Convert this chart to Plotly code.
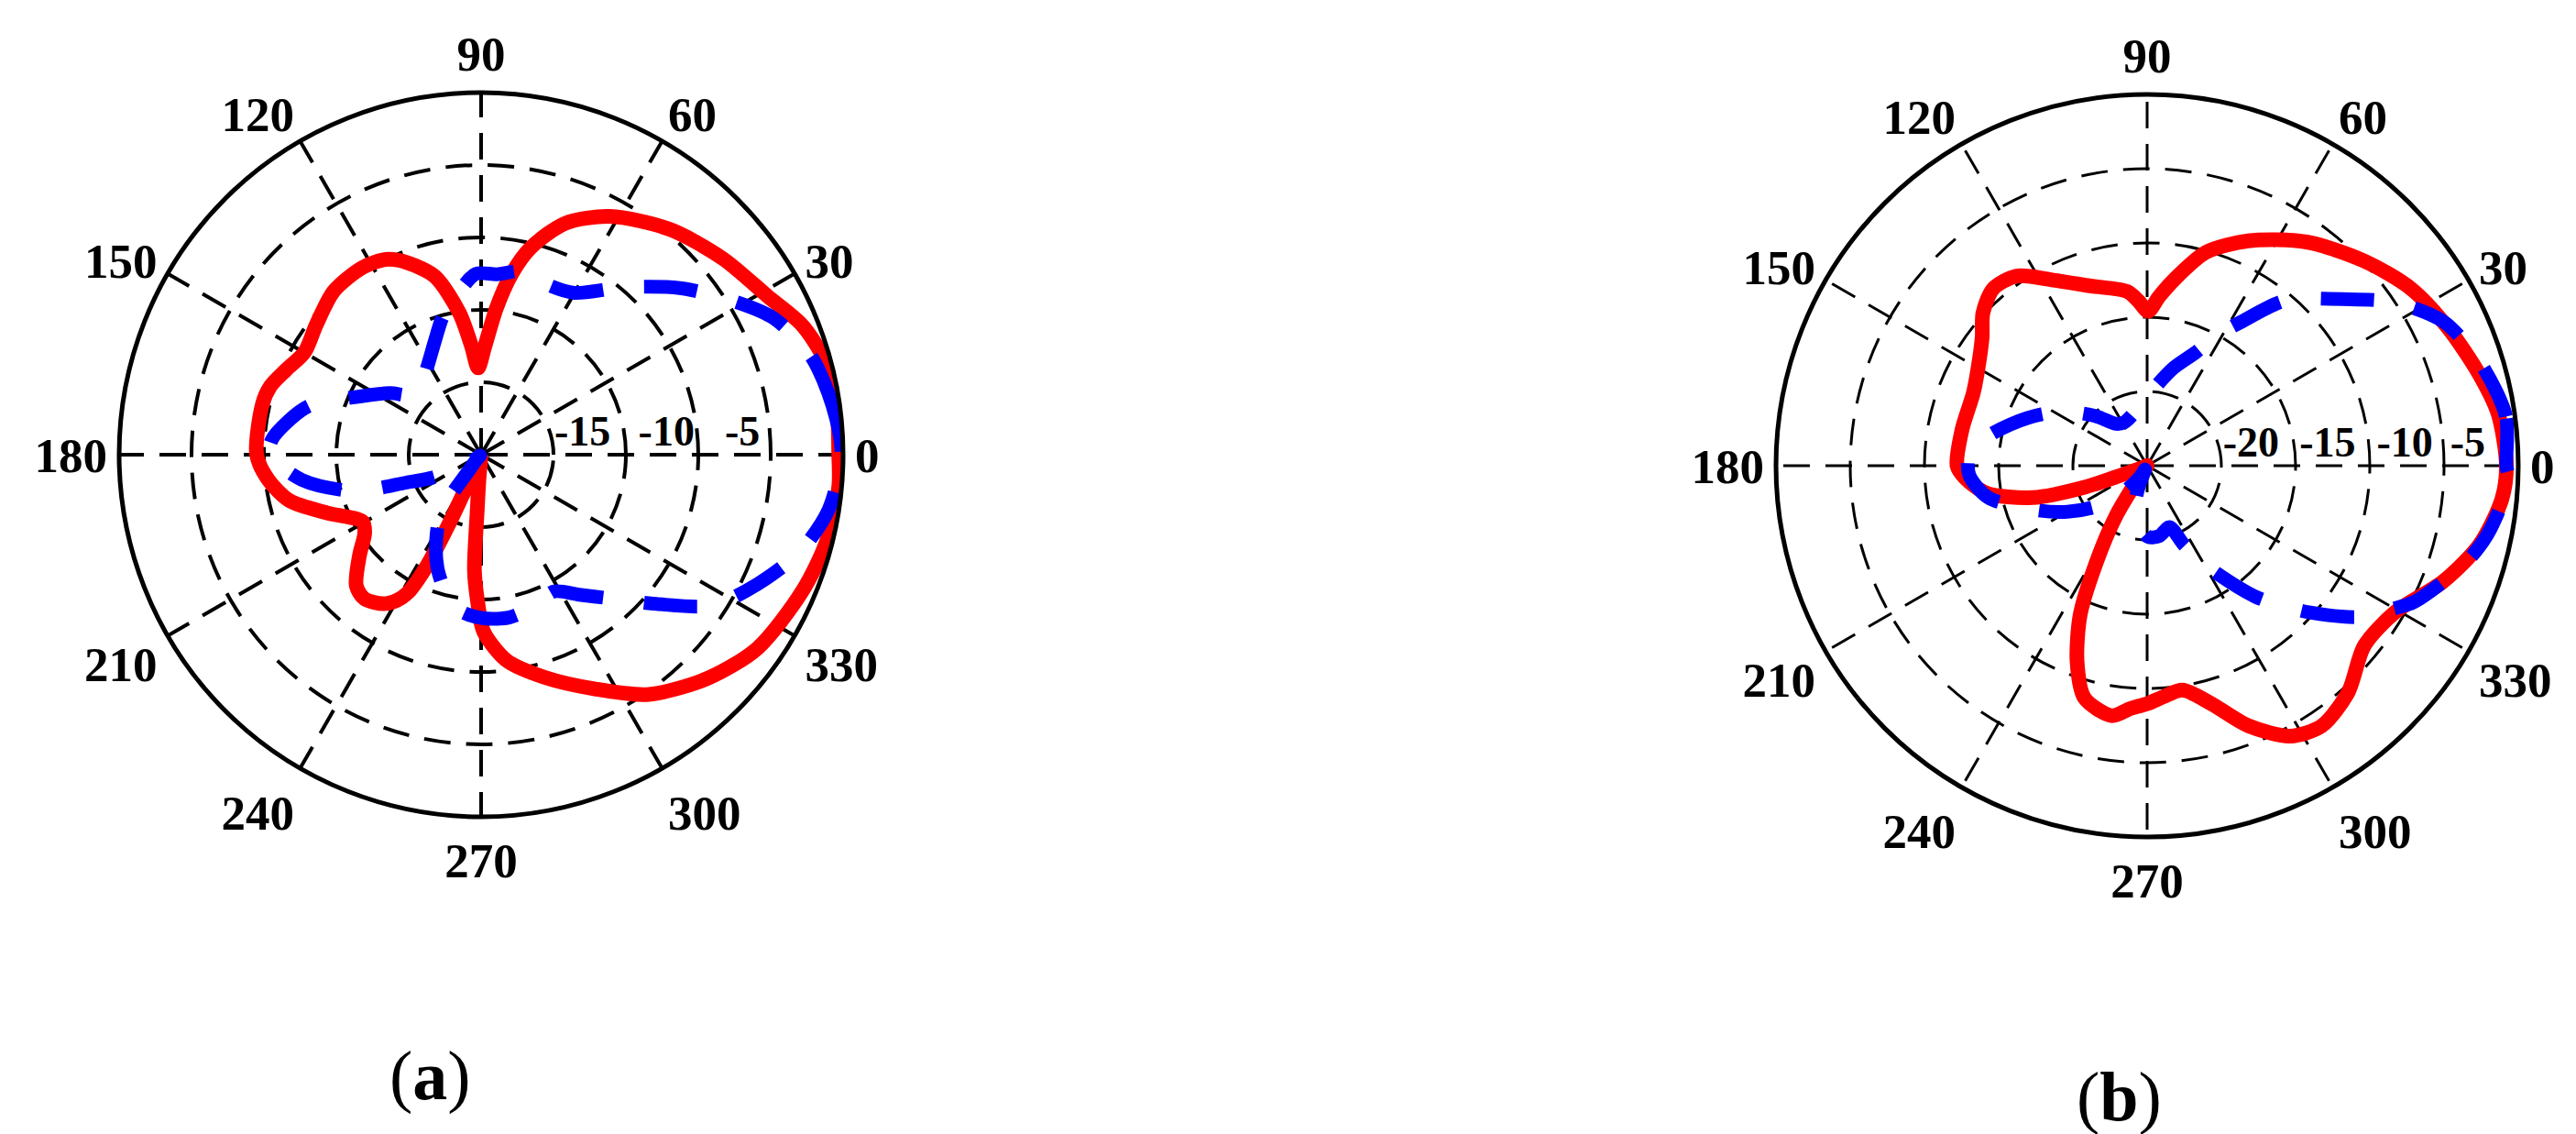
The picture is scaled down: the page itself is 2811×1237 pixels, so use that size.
import plotly.graph_objects as go

# angular tick labels (degrees)
angle_ticks = list(range(0, 360, 30))
angle_labels = [str(a) for a in angle_ticks]

# (a) radial scale, dB: rings and their labels (labels sit just right of each ring)
rad_a_rings = [-15, -10, -5, 0]
rad_a_label_pos = [-13.0, -7.2, -1.95]
rad_a_text = ["-15", "-10", "-5"]
# (b) radial scale, dB
rad_b_rings = [-20, -15, -10, -5]
rad_b_label_pos = [-18.0, -12.85, -7.65, -3.4]
rad_b_text = ["-20", "-15", "-10", "-5"]

# (a) red solid pattern
theta_a_red = [0, 8, 15.5, 22, 29, 39, 50, 61.6, 70, 76.5, 80.5, 84, 88, 92, 95, 98.7,
               104.5, 111, 116, 122.4, 132, 141.7, 149.8, 156.6, 162, 167, 180, 186.7,
               193.5, 200.6, 209.5, 214, 219.6, 226.4, 231, 236.8, 240, 242, 244, 245,
               245.5, 248, 260, 265, 266, 266.7, 268.6, 270.8, 277, 286, 296, 305,
               315.5, 325, 337, 346, 355, 360]
r_a_red = [4.7, 4.8, 4.6, 3.9, 2.6, 1.5, 0.3, -1.3, -3.0, -5.3, -7.4, -9.8, -12.5, -14.0,
           -12.5, -10.1, -7.3, -5.8, -5.0, -4.7, -4.8, -5.5, -5.9, -5.3, -4.7, -4.5, -4.5,
           -5.2, -6.4, -8.6, -10.6, -10.3, -9.1, -7.5, -7.2, -7.7, -8.4, -9.2, -11.5, -14.4,
           -17.5, -20.0, -20.0, -18.3, -16.2, -12.0, -9.9, -7.8, -5.7, -4.0, -2.0, 0.2,
           2.0, 3.3, 4.1, 4.6, 4.8, 4.7]

# (a) blue dashed pattern
theta_a_blue = [0, 8, 16.5, 25, 32, 40, 49.5, 60, 68, 77, 85, 91.6, 98, 105.5, 112, 120.7,
                130, 139, 146, 154, 164, 170, 176, 180, 188, 196, 200.5, 205, 210.8, 216,
                222, 228, 232, 235, 242, 249, 256, 262.6, 271, 280, 289, 298, 305, 311,
                319.6, 327, 335, 343, 351, 360]
r_a_blue = [4.9, 4.5, 3.8, 2.3, 0.2, -2.1, -4.8, -7.1, -7.4, -7.0, -7.5, -7.5, -8.7, -10.1,
            -11.5, -12.8, -13.6, -13.7, -12.4, -10.8, -7.7, -6.5, -5.5, -5.4, -7.5, -10.9,
            -14.5, -16.2, -17.9, -19.4, -19.9, -19.5, -18.7, -15.2, -13.4, -11.6, -10.1,
            -9.1, -8.7, -8.6, -8.9, -9.3, -8.2, -6.9, -4.1, -0.9, 1.1, 3.0, 4.3, 4.9]

# (b) red solid pattern
theta_b_red = [0, 8.4, 15.4, 24.5, 33.9, 43.3, 54.5, 65.8, 74.6, 81.6, 86, 89.6, 93, 96.5,
               107.6, 116.8, 124.5, 131, 137.1, 142, 147.4, 157, 168.8, 180, 183.8, 189.6,
               195.6, 199, 200, 203, 215, 232, 238.1, 242.3, 245.8, 250.3, 254.9, 261.9,
               266, 268, 270.3, 274, 279, 285.1, 291.3, 297.9, 303.9, 311.6, 320.3, 329.4,
               338.6, 346.6, 354.6, 360]
r_b_red = [-0.8, -1.1, -1.8, -2.7, -3.6, -4.9, -6.5, -8.4, -10.1, -12.3, -13.6, -14.6, -13.9,
           -13.2, -12.3, -11.0, -9.5, -9.2, -9.9, -10.9, -11.6, -12.3, -12.3, -12.2, -12.7,
           -14.0, -17.0, -20.6, -23.2, -24.7, -25.0, -24.7, -21.1, -17.6, -14.0, -11.0, -8.8,
           -8.0, -8.6, -8.8, -9.0, -9.4, -9.7, -8.4, -6.2, -4.4, -3.9, -4.6, -6.0, -5.6,
           -3.6, -2.0, -1.0, -0.8]

# (b) blue dashed pattern
theta_b_blue = [0, 7.8, 17.1, 25.9, 33.6, 40.4, 50.1, 57, 62, 66.8, 75, 83.5, 95, 108, 118,
                126.4, 136, 145.5, 154, 163.1, 170, 176.1, 183, 191.4, 202, 210, 218.7, 228,
                237.7, 243, 248, 253.2, 262, 270.9, 280, 290, 295, 301.1, 309.7, 314, 317.8,
                324.4, 329, 333, 341.6, 345, 349.4, 357.6, 360]
r_b_blue = [-0.8, -0.6, -1.5, -2.8, -5.1, -7.7, -10.5, -13.5, -15.1, -16.7, -18.2, -19.6,
            -20.8, -21.5, -21.7, -21.5, -20.2, -18.6, -17.1, -15.4, -14.0, -13.0, -13.0,
            -14.1, -17.0, -18.8, -20.6, -22.5, -24.1, -24.7, -23.5, -22.2, -21.0, -20.2,
            -20.2, -20.6, -19.1, -17.0, -13.5, -11.9, -10.3, -7.5, -6.1, -4.8, -2.9, -2.2,
            -1.5, -0.6, -0.8]

SERIF = "Liberation Serif"
DASH = "29px,17px"

fig = go.Figure()

for sub, th_r, rr, th_b, rb in [("polar", theta_a_red, r_a_red, theta_a_blue, r_a_blue),
                                 ("polar2", theta_b_red, r_b_red, theta_b_blue, r_b_blue)]:
    fig.add_trace(go.Scatterpolar(
        r=rr, theta=th_r, mode="lines", subplot=sub,
        line=dict(color="#ff0000", width=16, shape="spline", smoothing=0.8),
        hoverinfo="skip"
    ))
    fig.add_trace(go.Scatterpolar(
        r=rb, theta=th_b, mode="lines", subplot=sub,
        line=dict(color="#0000ff", width=15, dash="58px,45px", shape="spline", smoothing=0.8),
        hoverinfo="skip"
    ))

# empty traces so the label-only overlay subplots get drawn
for sub in ["polar3", "polar4"]:
    fig.add_trace(go.Scatterpolar(r=[], theta=[], mode="lines", subplot=sub, hoverinfo="skip"))


def polar_grid(xdom, ydom, rng, rings, gw):
    return dict(
        domain=dict(x=xdom, y=ydom),
        bgcolor="white",
        angularaxis=dict(
            direction="counterclockwise", rotation=0,
            tickvals=angle_ticks, ticktext=angle_labels, ticks="",
            showline=True, linecolor="black", linewidth=5,
            showgrid=True, gridcolor="black", gridwidth=gw, griddash=DASH,
            tickfont=dict(family=SERIF, size=53, color="black", weight="bold")
        ),
        radialaxis=dict(
            range=rng, angle=0, tickvals=rings, showticklabels=False, ticks="",
            showline=False, showgrid=True, gridcolor="black", gridwidth=gw, griddash=DASH
        )
    )


def polar_labels(xdom, ydom, rng, pos, text):
    return dict(
        domain=dict(x=xdom, y=ydom),
        bgcolor="rgba(0,0,0,0)",
        angularaxis=dict(visible=False, direction="counterclockwise", rotation=0),
        radialaxis=dict(
            range=rng, angle=0, side="counterclockwise", tickangle=0,
            tickvals=pos, ticktext=text, ticks="",
            showline=False, showgrid=False,
            tickfont=dict(family=SERIF, size=46, color="black", weight="bold")
        )
    )


W, H = 2811, 1237
dom_a = ([122 / W, 912 / W], [1 - 883 / H, 1 - 93 / H])
dom_b = ([1930 / W, 2740 / W], [1 - 905 / H, 1 - 95 / H])

fig.update_layout(
    width=W, height=H,
    margin=dict(l=0, r=0, t=0, b=0),
    paper_bgcolor="white",
    showlegend=False,
    polar=polar_grid(*dom_a, [-20, 5], rad_a_rings, 3.5),
    polar2=polar_grid(*dom_b, [-25, 0], rad_b_rings, 2.6),
    polar3=polar_labels(*dom_a, [-20, 5], rad_a_label_pos, rad_a_text),
    polar4=polar_labels(*dom_b, [-25, 0], rad_b_label_pos, rad_b_text),
    annotations=[
        dict(text="(<b>a</b>)", x=461 / W, y=1 - 1165 / H, xref="paper", yref="paper",
             xanchor="center", yanchor="middle", showarrow=False,
             font=dict(family=SERIF, size=76, color="black")),
        dict(text="(<b>b</b>)", x=2304 / W, y=1 - 1188 / H, xref="paper", yref="paper",
             xanchor="center", yanchor="middle", showarrow=False,
             font=dict(family=SERIF, size=76, color="black")),
    ]
)

fig.write_html("out.html")
